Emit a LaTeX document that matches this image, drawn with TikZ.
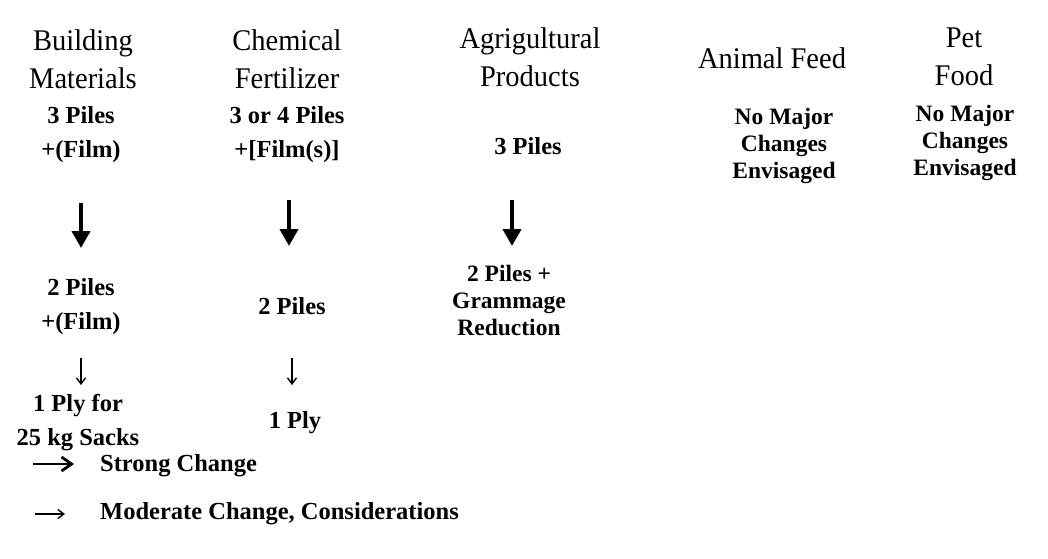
\documentclass[tikz,border=0pt]{standalone}
\usepackage{fontspec}
\setmainfont{Liberation Serif}
\newfontfamily\headfont[FakeStretch=0.95]{Liberation Serif}
\usetikzlibrary{arrows.meta}
\tikzset{
  head/.style={inner sep=0pt, align=center, font=\headfont\fontsize{30}{38}\selectfont},
  body/.style={inner sep=0pt, align=center, font=\bfseries\fontsize{24.5}{34}\selectfont},
  bodytight/.style={inner sep=0pt, align=center, font=\bfseries\fontsize{23.5}{27}\selectfont},
  legendtext/.style={inner sep=0pt, anchor=west, font=\bfseries\fontsize{24.5}{27}\selectfont},
  strongarrow/.style={line width=4pt, -{Triangle[width=18pt,length=17pt]}},
  modarrow/.style={line width=1.4pt, -{Straight Barb[width=9pt,length=6pt,line width=1.4pt]}},
  strongleg/.style={line width=2.8pt, -{Straight Barb[width=14pt,length=10pt,line width=2.8pt]}},
}
\begin{document}
\begin{tikzpicture}[x=1pt,y=-1pt]
\useasboundingbox (0,0) rectangle (1048,558);
% headers
\node[head] (h1) at (83,59) {Building\\Materials};
\node[head] (h2) at (287,59) {Chemical\\Fertilizer};
\node[head] (h3) at (530,57) {Agrigultural\\Products};
\node[head] (h4) at (772,58) {Animal Feed};
\node[head] (h5) at (964,57) {Pet\\Food};
% column 1
\node[body] (a1) at (81,135) {3 Piles\\+(Film)};
\node[body] (b1) at (81,307) {2 Piles\\+(Film)};
\node[body] (c1) at (78,423) {1 Ply for\\25 kg Sacks};
% column 2
\node[body] (a2) at (287,135) {3 or 4 Piles\\+[Film(s)]};
\node[body] (b2) at (292,306) {2 Piles};
\node[body] (c2) at (295,423) {1 Ply};
% column 3
\node[body] (a3) at (528,146) {3 Piles};
\node[bodytight] (b3) at (509,300) {2 Piles +\\Grammage\\Reduction};
% columns 4,5
\node[bodytight] (a4) at (784,146) {No Major\\Changes\\Envisaged};
\node[bodytight] (a5) at (965,143) {No Major\\Changes\\Envisaged};
% arrow ends
\coordinate (s1) at (81,203); \coordinate (e1) at (81,248);
\coordinate (s2) at (289,200); \coordinate (e2) at (289,246);
\coordinate (s3) at (512,200); \coordinate (e3) at (512,246);
\coordinate (m1) at (81,358); \coordinate (n1) at (81,385);
\coordinate (m2) at (292,358); \coordinate (n2) at (292,385);
\draw[strongarrow] (s1) -- (e1);
\draw[strongarrow] (s2) -- (e2);
\draw[strongarrow] (s3) -- (e3);
\draw[modarrow] (m1) -- (n1);
\draw[modarrow] (m2) -- (n2);
% legend
\coordinate (ls) at (33,464); \coordinate (le) at (74,464);
\coordinate (ms) at (35,514); \coordinate (me) at (65,514);
\draw[strongleg] (ls) -- (le);
\draw[modarrow] (ms) -- (me);
\node[legendtext] (l1) at (100,466) {Strong Change};
\node[legendtext] (l2) at (100,514) {Moderate Change, Considerations};
\end{tikzpicture}
\end{document}
